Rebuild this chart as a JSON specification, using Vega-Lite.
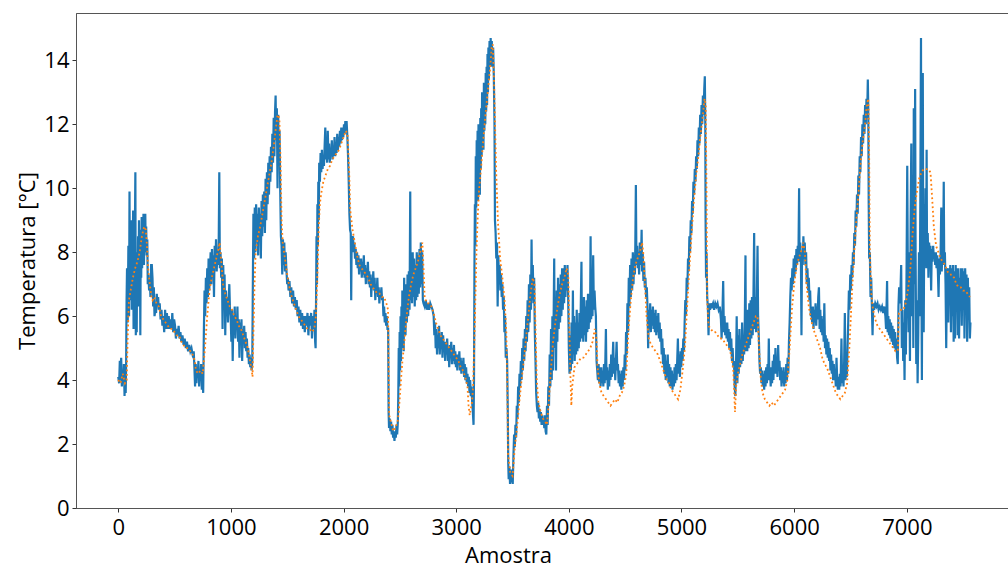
{
"$schema": "https://vega.github.io/schema/vega-lite/v6.json",
"width": 935, "height": 495,
"autosize": {"type": "none"},
"padding": {"left": 76, "top": 13, "right": 0, "bottom": 61},
"background": "white",
"config": {
  "view": {"stroke": "#555", "strokeWidth": 1},
  "axis": {"labelFont": "Open Sans", "titleFont": "Open Sans", "labelFontSize": 22, "titleFontSize": 22, "titleFontWeight": "normal", "labelColor": "#000", "titleColor": "#000", "tickColor": "#333", "domainColor": "#555", "tickSize": 4, "grid": false}
},
"datasets": {
"meas": [
{"x":0,"y":4.1},{"x":8,"y":3.9},{"x":14,"y":4.6},{"x":20,"y":4.0},{"x":26,"y":4.7},{"x":32,"y":3.8},{"x":38,"y":4.3},{"x":44,"y":3.9},{"x":50,"y":4.5},{"x":56,"y":3.5},{"x":62,"y":4.2},{"x":66,"y":3.6},{"x":70,"y":4.5},{"x":74,"y":6.5},{"x":78,"y":7.5},{"x":84,"y":5.8},{"x":90,"y":8.2},{"x":96,"y":6.0},{"x":100,"y":9.9},{"x":104,"y":6.5},{"x":108,"y":8.8},{"x":112,"y":7.0},{"x":116,"y":9.0},{"x":120,"y":6.2},{"x":124,"y":8.5},{"x":128,"y":7.2},{"x":132,"y":9.3},{"x":136,"y":5.6},{"x":140,"y":8.4},{"x":144,"y":6.4},{"x":148,"y":8.8},{"x":152,"y":10.5},{"x":156,"y":5.4},{"x":160,"y":7.8},{"x":164,"y":5.5},{"x":168,"y":8.0},{"x":172,"y":6.8},{"x":176,"y":8.5},{"x":180,"y":6.3},{"x":184,"y":9.0},{"x":188,"y":7.0},{"x":192,"y":8.6},{"x":196,"y":5.4},{"x":200,"y":8.7},{"x":204,"y":7.2},{"x":208,"y":9.1},{"x":212,"y":7.5},{"x":216,"y":8.8},{"x":220,"y":7.8},{"x":224,"y":9.2},{"x":228,"y":7.6},{"x":232,"y":8.5},{"x":236,"y":8.0},{"x":240,"y":9.2},{"x":244,"y":8.2},{"x":248,"y":8.8},{"x":252,"y":7.9},{"x":258,"y":8.4},{"x":262,"y":7.0},{"x":268,"y":7.3},{"x":274,"y":6.8},{"x":280,"y":7.2},{"x":286,"y":6.6},{"x":292,"y":7.6},{"x":298,"y":7.6},{"x":304,"y":7.2},{"x":310,"y":6.3},{"x":316,"y":6.9},{"x":322,"y":6.0},{"x":330,"y":6.2},{"x":336,"y":6.1},{"x":342,"y":6.7},{"x":348,"y":6.3},{"x":354,"y":6.6},{"x":360,"y":6.2},{"x":368,"y":6.4},{"x":376,"y":5.9},{"x":384,"y":6.2},{"x":392,"y":5.7},{"x":400,"y":6.0},{"x":408,"y":5.5},{"x":416,"y":6.2},{"x":424,"y":5.6},{"x":432,"y":6.1},{"x":440,"y":5.6},{"x":448,"y":6.0},{"x":456,"y":5.6},{"x":464,"y":5.9},{"x":472,"y":5.6},{"x":480,"y":6.1},{"x":488,"y":5.5},{"x":496,"y":5.9},{"x":504,"y":5.7},{"x":512,"y":5.3},{"x":520,"y":5.6},{"x":528,"y":5.4},{"x":536,"y":5.7},{"x":544,"y":5.3},{"x":552,"y":5.5},{"x":560,"y":5.2},{"x":570,"y":5.4},{"x":580,"y":5.1},{"x":590,"y":5.3},{"x":600,"y":5.0},{"x":610,"y":5.2},{"x":620,"y":4.9},{"x":630,"y":5.1},{"x":640,"y":4.9},{"x":650,"y":5.0},{"x":660,"y":4.8},{"x":670,"y":4.9},{"x":676,"y":4.4},{"x":682,"y":3.8},{"x":688,"y":4.5},{"x":694,"y":3.9},{"x":700,"y":4.4},{"x":706,"y":4.2},{"x":712,"y":4.6},{"x":718,"y":3.8},{"x":724,"y":4.3},{"x":730,"y":4.0},{"x":736,"y":4.5},{"x":742,"y":3.7},{"x":748,"y":4.3},{"x":754,"y":3.6},{"x":760,"y":5.5},{"x":766,"y":6.8},{"x":772,"y":6.0},{"x":778,"y":7.2},{"x":784,"y":6.4},{"x":790,"y":7.5},{"x":796,"y":6.6},{"x":802,"y":7.8},{"x":808,"y":6.8},{"x":814,"y":7.4},{"x":820,"y":8.0},{"x":826,"y":7.0},{"x":832,"y":8.1},{"x":838,"y":7.2},{"x":844,"y":7.9},{"x":850,"y":6.6},{"x":856,"y":8.2},{"x":862,"y":7.5},{"x":868,"y":8.4},{"x":874,"y":7.4},{"x":880,"y":8.0},{"x":886,"y":7.6},{"x":892,"y":8.3},{"x":897,"y":10.5},{"x":902,"y":7.5},{"x":908,"y":8.0},{"x":914,"y":7.2},{"x":920,"y":7.8},{"x":926,"y":5.6},{"x":932,"y":7.6},{"x":938,"y":6.4},{"x":944,"y":7.3},{"x":950,"y":5.4},{"x":956,"y":6.8},{"x":962,"y":6.0},{"x":968,"y":6.6},{"x":974,"y":5.8},{"x":980,"y":6.5},{"x":986,"y":7.0},{"x":992,"y":6.2},{"x":998,"y":6.0},{"x":1004,"y":5.2},{"x":1010,"y":6.2},{"x":1016,"y":4.6},{"x":1022,"y":6.0},{"x":1028,"y":5.6},{"x":1034,"y":6.3},{"x":1040,"y":5.3},{"x":1046,"y":6.0},{"x":1052,"y":5.6},{"x":1058,"y":6.3},{"x":1064,"y":5.2},{"x":1070,"y":5.9},{"x":1076,"y":4.7},{"x":1082,"y":5.8},{"x":1088,"y":5.3},{"x":1094,"y":5.9},{"x":1100,"y":4.6},{"x":1106,"y":5.6},{"x":1112,"y":5.2},{"x":1118,"y":5.7},{"x":1124,"y":5.0},{"x":1130,"y":5.5},{"x":1136,"y":4.9},{"x":1142,"y":5.3},{"x":1148,"y":4.7},{"x":1154,"y":5.0},{"x":1160,"y":4.5},{"x":1166,"y":4.8},{"x":1172,"y":4.4},{"x":1178,"y":4.7},{"x":1184,"y":4.3},{"x":1190,"y":4.6},
{"x":1196,"y":7.5},{"x":1200,"y":9.2},{"x":1206,"y":7.8},{"x":1212,"y":9.4},{"x":1218,"y":8.0},{"x":1224,"y":9.5},{"x":1230,"y":8.3},{"x":1236,"y":9.2},{"x":1242,"y":7.9},{"x":1248,"y":9.4},{"x":1254,"y":8.5},{"x":1260,"y":9.2},{"x":1266,"y":7.8},{"x":1272,"y":9.6},{"x":1278,"y":8.5},{"x":1284,"y":9.8},{"x":1290,"y":8.8},{"x":1296,"y":9.9},{"x":1302,"y":8.6},{"x":1308,"y":10.3},{"x":1314,"y":9.0},{"x":1320,"y":10.5},{"x":1326,"y":9.5},{"x":1332,"y":10.8},{"x":1338,"y":9.8},{"x":1344,"y":11.0},{"x":1350,"y":10.2},{"x":1356,"y":11.3},{"x":1362,"y":10.5},{"x":1368,"y":11.7},{"x":1374,"y":10.8},{"x":1380,"y":12.2},{"x":1386,"y":11.0},{"x":1392,"y":12.4},{"x":1397,"y":12.9},{"x":1402,"y":11.5},{"x":1408,"y":12.5},{"x":1414,"y":10.0},{"x":1420,"y":12.3},{"x":1426,"y":10.8},{"x":1432,"y":11.8},{"x":1438,"y":9.9},{"x":1444,"y":8.5},{"x":1450,"y":8.2},{"x":1456,"y":7.3},{"x":1462,"y":8.4},{"x":1468,"y":7.6},{"x":1474,"y":8.3},{"x":1480,"y":7.4},{"x":1486,"y":8.0},{"x":1492,"y":7.5},{"x":1500,"y":7.0},{"x":1506,"y":7.2},{"x":1512,"y":6.8},{"x":1520,"y":7.1},{"x":1528,"y":6.6},{"x":1536,"y":6.9},{"x":1544,"y":6.4},{"x":1552,"y":6.8},{"x":1560,"y":6.3},{"x":1568,"y":6.6},{"x":1576,"y":6.2},{"x":1584,"y":6.5},{"x":1592,"y":6.0},{"x":1600,"y":6.3},{"x":1608,"y":5.8},{"x":1616,"y":6.2},{"x":1624,"y":5.7},{"x":1632,"y":6.1},{"x":1640,"y":5.6},{"x":1648,"y":6.0},{"x":1656,"y":5.5},{"x":1664,"y":6.0},{"x":1672,"y":5.7},{"x":1680,"y":6.1},{"x":1688,"y":5.4},{"x":1696,"y":6.0},{"x":1704,"y":5.7},{"x":1712,"y":6.1},{"x":1720,"y":5.3},{"x":1728,"y":6.0},{"x":1736,"y":5.6},{"x":1742,"y":6.2},{"x":1748,"y":5.2},{"x":1752,"y":5.0},
{"x":1756,"y":6.5},{"x":1760,"y":8.5},{"x":1764,"y":7.0},{"x":1768,"y":9.5},{"x":1772,"y":8.2},{"x":1776,"y":10.2},{"x":1780,"y":9.0},{"x":1784,"y":10.8},{"x":1790,"y":10.2},{"x":1796,"y":11.1},{"x":1802,"y":10.5},{"x":1808,"y":11.2},{"x":1814,"y":10.6},{"x":1820,"y":11.0},{"x":1826,"y":10.7},{"x":1832,"y":11.3},{"x":1838,"y":11.9},{"x":1842,"y":10.9},{"x":1848,"y":11.5},{"x":1854,"y":10.8},{"x":1860,"y":11.8},{"x":1866,"y":10.9},{"x":1872,"y":11.4},{"x":1878,"y":10.8},{"x":1884,"y":11.2},{"x":1890,"y":11.0},{"x":1896,"y":11.5},{"x":1902,"y":10.9},{"x":1908,"y":11.3},{"x":1914,"y":11.0},{"x":1920,"y":11.6},{"x":1926,"y":11.0},{"x":1932,"y":11.4},{"x":1938,"y":11.1},{"x":1944,"y":11.7},{"x":1950,"y":11.2},{"x":1956,"y":11.6},{"x":1962,"y":11.3},{"x":1968,"y":11.8},{"x":1974,"y":11.4},{"x":1980,"y":11.9},{"x":1986,"y":11.5},{"x":1992,"y":11.9},{"x":1998,"y":11.6},{"x":2004,"y":12.0},{"x":2010,"y":11.7},{"x":2016,"y":12.1},{"x":2022,"y":11.9},{"x":2027,"y":12.1},{"x":2034,"y":11.6},{"x":2040,"y":11.0},{"x":2046,"y":10.2},{"x":2052,"y":9.2},{"x":2058,"y":8.7},{"x":2064,"y":8.6},{"x":2068,"y":6.5},{"x":2072,"y":8.5},{"x":2078,"y":8.2},{"x":2084,"y":8.5},{"x":2090,"y":8.0},{"x":2096,"y":8.3},{"x":2102,"y":7.8},{"x":2108,"y":8.1},{"x":2114,"y":7.6},{"x":2120,"y":8.0},{"x":2126,"y":7.5},{"x":2132,"y":7.9},{"x":2138,"y":7.3},{"x":2144,"y":7.8},{"x":2150,"y":7.4},{"x":2156,"y":7.8},{"x":2162,"y":7.2},{"x":2168,"y":7.7},{"x":2174,"y":7.3},{"x":2180,"y":7.9},{"x":2186,"y":7.2},{"x":2192,"y":7.6},{"x":2198,"y":7.0},{"x":2204,"y":7.5},{"x":2210,"y":7.2},{"x":2216,"y":7.7},{"x":2222,"y":7.0},{"x":2228,"y":7.4},{"x":2234,"y":6.9},{"x":2240,"y":7.3},{"x":2246,"y":6.6},{"x":2252,"y":7.2},{"x":2258,"y":6.9},{"x":2264,"y":7.4},{"x":2270,"y":6.8},{"x":2276,"y":7.2},{"x":2282,"y":6.5},{"x":2288,"y":7.0},{"x":2294,"y":6.7},{"x":2300,"y":7.2},{"x":2306,"y":6.6},{"x":2312,"y":6.9},{"x":2318,"y":6.4},{"x":2324,"y":6.8},{"x":2330,"y":6.6},{"x":2336,"y":6.9},{"x":2342,"y":6.5},{"x":2348,"y":6.6},{"x":2354,"y":6.0},{"x":2360,"y":6.3},{"x":2366,"y":5.8},{"x":2372,"y":6.1},{"x":2378,"y":5.7},{"x":2384,"y":6.0},{"x":2390,"y":5.6},{"x":2396,"y":5.6},{"x":2400,"y":3.0},{"x":2404,"y":2.5},{"x":2410,"y":2.8},{"x":2416,"y":2.4},{"x":2422,"y":2.7},{"x":2428,"y":2.3},{"x":2434,"y":2.6},{"x":2440,"y":2.2},{"x":2446,"y":2.4},{"x":2452,"y":2.1},{"x":2458,"y":2.4},{"x":2464,"y":2.2},{"x":2470,"y":2.6},{"x":2476,"y":2.3},{"x":2482,"y":2.7},{"x":2486,"y":3.5},{"x":2490,"y":5.0},{"x":2494,"y":3.8},{"x":2498,"y":5.5},{"x":2502,"y":4.3},{"x":2506,"y":6.0},{"x":2510,"y":4.6},{"x":2514,"y":6.3},{"x":2518,"y":5.0},{"x":2522,"y":6.8},{"x":2526,"y":5.2},{"x":2530,"y":6.5},{"x":2534,"y":4.9},{"x":2538,"y":7.2},{"x":2542,"y":5.6},{"x":2546,"y":6.8},{"x":2550,"y":5.4},{"x":2556,"y":7.0},{"x":2562,"y":5.8},{"x":2568,"y":7.3},{"x":2574,"y":6.0},{"x":2580,"y":7.4},{"x":2586,"y":6.2},{"x":2592,"y":9.9},{"x":2596,"y":6.5},{"x":2602,"y":7.8},{"x":2608,"y":6.4},{"x":2614,"y":8.0},{"x":2620,"y":6.6},{"x":2626,"y":7.8},{"x":2632,"y":6.3},{"x":2638,"y":7.6},{"x":2644,"y":6.5},{"x":2650,"y":8.0},{"x":2656,"y":6.6},{"x":2662,"y":7.9},{"x":2668,"y":6.7},{"x":2674,"y":8.1},{"x":2680,"y":6.9},{"x":2686,"y":8.3},{"x":2692,"y":7.0},{"x":2698,"y":8.0},{"x":2704,"y":6.5},{"x":2710,"y":6.4},{"x":2720,"y":6.3},{"x":2730,"y":6.5},{"x":2740,"y":6.2},{"x":2750,"y":6.4},{"x":2760,"y":6.2},{"x":2770,"y":6.4},{"x":2780,"y":6.3},{"x":2790,"y":6.2},{"x":2800,"y":6.0},{"x":2806,"y":5.4},{"x":2812,"y":5.8},{"x":2818,"y":5.0},{"x":2824,"y":5.6},{"x":2830,"y":4.8},{"x":2836,"y":5.4},{"x":2842,"y":5.0},{"x":2848,"y":5.7},{"x":2854,"y":4.8},{"x":2860,"y":5.3},{"x":2866,"y":5.0},{"x":2872,"y":5.5},{"x":2878,"y":4.7},{"x":2884,"y":5.4},{"x":2890,"y":4.9},{"x":2896,"y":5.2},{"x":2902,"y":4.6},{"x":2908,"y":5.2},{"x":2914,"y":4.8},{"x":2920,"y":5.3},{"x":2926,"y":4.6},{"x":2932,"y":5.0},{"x":2938,"y":4.4},{"x":2944,"y":5.1},{"x":2950,"y":4.7},{"x":2956,"y":5.2},{"x":2962,"y":4.5},{"x":2968,"y":5.0},{"x":2974,"y":4.6},{"x":2980,"y":5.1},{"x":2986,"y":4.5},{"x":2992,"y":4.9},{"x":2998,"y":4.4},{"x":3004,"y":4.8},{"x":3010,"y":4.3},{"x":3016,"y":4.8},{"x":3022,"y":4.5},{"x":3028,"y":4.9},{"x":3034,"y":4.3},{"x":3040,"y":4.7},{"x":3046,"y":4.2},{"x":3052,"y":4.6},{"x":3058,"y":4.3},{"x":3064,"y":4.7},{"x":3070,"y":4.1},{"x":3076,"y":4.5},{"x":3082,"y":4.0},{"x":3088,"y":4.4},{"x":3094,"y":3.9},{"x":3100,"y":4.2},{"x":3106,"y":3.8},{"x":3112,"y":4.1},{"x":3118,"y":3.6},{"x":3124,"y":4.0},{"x":3130,"y":3.5},{"x":3136,"y":3.8},{"x":3142,"y":3.3},{"x":3148,"y":3.0},{"x":3154,"y":2.6},{"x":3158,"y":4.0},{"x":3162,"y":7.5},{"x":3166,"y":9.5},{"x":3170,"y":8.2},{"x":3174,"y":11.0},{"x":3178,"y":9.4},{"x":3182,"y":11.5},{"x":3186,"y":10.0},{"x":3190,"y":11.8},{"x":3194,"y":9.6},{"x":3198,"y":12.0},{"x":3202,"y":10.2},{"x":3206,"y":11.6},{"x":3210,"y":9.8},{"x":3214,"y":12.2},{"x":3218,"y":10.6},{"x":3222,"y":12.5},{"x":3226,"y":11.0},{"x":3230,"y":13.0},{"x":3234,"y":11.5},{"x":3238,"y":12.6},{"x":3242,"y":11.2},{"x":3246,"y":13.3},{"x":3250,"y":11.8},{"x":3254,"y":13.0},{"x":3258,"y":12.0},{"x":3262,"y":13.6},{"x":3266,"y":12.4},{"x":3270,"y":13.8},{"x":3274,"y":12.6},{"x":3278,"y":14.2},{"x":3282,"y":13.0},{"x":3286,"y":14.4},{"x":3290,"y":13.4},{"x":3296,"y":14.6},{"x":3302,"y":13.8},{"x":3306,"y":14.7},{"x":3310,"y":14.1},{"x":3316,"y":14.6},{"x":3322,"y":13.8},{"x":3328,"y":14.4},{"x":3334,"y":13.5},{"x":3340,"y":12.0},{"x":3344,"y":9.0},{"x":3350,"y":8.6},{"x":3356,"y":7.8},{"x":3362,"y":8.3},{"x":3368,"y":6.3},{"x":3374,"y":7.9},{"x":3380,"y":7.0},{"x":3386,"y":7.6},{"x":3392,"y":6.8},{"x":3398,"y":7.3},{"x":3404,"y":6.6},{"x":3410,"y":7.0},{"x":3416,"y":6.2},{"x":3422,"y":6.6},{"x":3428,"y":5.5},{"x":3434,"y":6.0},{"x":3440,"y":4.7},{"x":3446,"y":5.0},{"x":3452,"y":4.6},{"x":3458,"y":3.0},{"x":3462,"y":1.4},{"x":3466,"y":0.9},{"x":3472,"y":1.3},{"x":3478,"y":0.75},{"x":3484,"y":1.2},{"x":3490,"y":0.8},{"x":3496,"y":1.2},{"x":3502,"y":0.75},{"x":3508,"y":1.6},{"x":3514,"y":2.3},{"x":3520,"y":1.9},{"x":3526,"y":2.6},{"x":3532,"y":2.2},{"x":3538,"y":3.2},{"x":3544,"y":2.8},{"x":3550,"y":3.8},{"x":3556,"y":3.3},{"x":3562,"y":4.2},{"x":3568,"y":3.8},{"x":3574,"y":4.6},{"x":3580,"y":4.0},{"x":3586,"y":5.0},{"x":3592,"y":4.3},{"x":3598,"y":5.3},{"x":3604,"y":4.6},{"x":3610,"y":5.6},{"x":3616,"y":4.9},{"x":3622,"y":6.0},{"x":3628,"y":5.2},{"x":3634,"y":6.5},{"x":3640,"y":5.5},{"x":3646,"y":7.0},{"x":3652,"y":5.8},{"x":3658,"y":7.3},{"x":3664,"y":6.2},{"x":3669,"y":8.4},{"x":3674,"y":6.5},{"x":3680,"y":7.6},{"x":3686,"y":6.4},{"x":3692,"y":7.2},{"x":3698,"y":5.5},{"x":3704,"y":4.6},{"x":3710,"y":3.6},{"x":3716,"y":3.2},{"x":3722,"y":3.0},{"x":3728,"y":3.3},{"x":3734,"y":2.8},{"x":3740,"y":3.1},{"x":3746,"y":2.7},{"x":3752,"y":3.0},{"x":3758,"y":2.6},{"x":3764,"y":2.9},{"x":3770,"y":2.6},{"x":3776,"y":2.8},{"x":3782,"y":2.5},{"x":3788,"y":2.9},{"x":3794,"y":2.4},{"x":3800,"y":2.3},{"x":3806,"y":3.2},{"x":3812,"y":2.6},{"x":3818,"y":3.8},{"x":3824,"y":3.2},{"x":3830,"y":4.8},{"x":3836,"y":3.8},{"x":3842,"y":5.6},{"x":3848,"y":4.0},{"x":3854,"y":6.0},{"x":3860,"y":4.3},{"x":3866,"y":6.3},{"x":3870,"y":7.8},{"x":3874,"y":5.0},{"x":3880,"y":6.6},{"x":3886,"y":4.3},{"x":3892,"y":6.8},{"x":3898,"y":5.2},{"x":3904,"y":7.2},{"x":3910,"y":5.6},{"x":3916,"y":7.0},{"x":3922,"y":5.8},{"x":3928,"y":7.3},{"x":3934,"y":6.0},{"x":3940,"y":7.5},{"x":3946,"y":6.2},{"x":3952,"y":7.5},{"x":3958,"y":6.4},{"x":3964,"y":7.6},{"x":3970,"y":6.6},{"x":3976,"y":7.4},{"x":3982,"y":6.8},{"x":3988,"y":7.6},{"x":3994,"y":6.6},{"x":4000,"y":5.0},{"x":4006,"y":4.2},{"x":4012,"y":5.4},{"x":4018,"y":4.3},{"x":4024,"y":5.8},{"x":4030,"y":4.5},{"x":4036,"y":6.8},{"x":4040,"y":4.8},{"x":4046,"y":6.0},{"x":4052,"y":4.6},{"x":4058,"y":5.8},{"x":4064,"y":4.8},{"x":4070,"y":6.2},{"x":4076,"y":4.9},{"x":4082,"y":5.8},{"x":4088,"y":5.0},{"x":4094,"y":6.1},{"x":4100,"y":5.2},{"x":4106,"y":6.3},{"x":4112,"y":7.7},{"x":4116,"y":5.3},{"x":4122,"y":6.4},{"x":4128,"y":5.2},{"x":4134,"y":6.6},{"x":4140,"y":5.4},{"x":4146,"y":6.3},{"x":4152,"y":5.2},{"x":4158,"y":6.5},{"x":4164,"y":5.5},{"x":4170,"y":6.7},{"x":4176,"y":5.6},{"x":4182,"y":6.4},{"x":4188,"y":5.8},{"x":4193,"y":8.5},{"x":4198,"y":5.9},{"x":4204,"y":6.8},{"x":4210,"y":6.0},{"x":4216,"y":7.9},{"x":4222,"y":6.2},{"x":4228,"y":6.8},{"x":4234,"y":6.3},{"x":4240,"y":6.0},{"x":4246,"y":4.6},{"x":4252,"y":4.3},{"x":4258,"y":4.0},{"x":4264,"y":4.5},{"x":4270,"y":3.9},{"x":4276,"y":4.4},{"x":4282,"y":3.8},{"x":4288,"y":4.4},{"x":4294,"y":3.9},{"x":4300,"y":4.3},{"x":4306,"y":3.8},{"x":4312,"y":4.5},{"x":4318,"y":3.9},{"x":4324,"y":4.6},{"x":4329,"y":5.6},{"x":4334,"y":4.0},{"x":4340,"y":4.4},{"x":4346,"y":3.7},{"x":4352,"y":4.3},{"x":4358,"y":3.8},{"x":4364,"y":4.5},{"x":4370,"y":4.0},{"x":4376,"y":4.8},{"x":4382,"y":4.1},{"x":4388,"y":4.6},{"x":4394,"y":5.2},{"x":4400,"y":4.2},{"x":4406,"y":4.7},{"x":4412,"y":4.0},{"x":4418,"y":4.6},{"x":4424,"y":5.2},{"x":4430,"y":4.3},{"x":4436,"y":4.5},{"x":4442,"y":3.9},{"x":4448,"y":4.3},{"x":4454,"y":3.8},{"x":4460,"y":4.2},{"x":4466,"y":3.7},{"x":4472,"y":4.3},{"x":4478,"y":3.8},{"x":4484,"y":4.4},{"x":4490,"y":4.0},{"x":4496,"y":4.8},{"x":4502,"y":4.3},{"x":4508,"y":5.5},{"x":4514,"y":4.8},{"x":4520,"y":6.4},{"x":4526,"y":5.5},{"x":4532,"y":7.2},{"x":4538,"y":6.3},{"x":4544,"y":7.6},{"x":4550,"y":6.6},{"x":4556,"y":7.8},{"x":4562,"y":6.8},{"x":4568,"y":8.0},{"x":4574,"y":7.0},{"x":4580,"y":7.9},{"x":4586,"y":7.3},{"x":4590,"y":8.2},{"x":4595,"y":10.1},{"x":4600,"y":7.6},{"x":4606,"y":8.2},{"x":4612,"y":7.5},{"x":4618,"y":8.0},{"x":4624,"y":7.3},{"x":4630,"y":8.3},{"x":4636,"y":7.6},{"x":4642,"y":8.0},{"x":4646,"y":8.7},{"x":4650,"y":7.4},{"x":4656,"y":8.0},{"x":4662,"y":7.1},{"x":4668,"y":7.7},{"x":4674,"y":6.9},{"x":4680,"y":7.2},{"x":4686,"y":6.6},{"x":4692,"y":6.9},{"x":4698,"y":6.3},{"x":4704,"y":5.0},{"x":4710,"y":6.2},{"x":4716,"y":5.6},{"x":4722,"y":6.4},{"x":4728,"y":5.5},{"x":4734,"y":6.2},{"x":4740,"y":5.7},{"x":4746,"y":6.3},{"x":4752,"y":5.6},{"x":4758,"y":6.1},{"x":4764,"y":5.5},{"x":4770,"y":6.2},{"x":4776,"y":5.4},{"x":4782,"y":6.0},{"x":4788,"y":5.5},{"x":4794,"y":6.1},{"x":4800,"y":5.3},{"x":4806,"y":5.8},{"x":4812,"y":5.2},{"x":4818,"y":5.6},{"x":4824,"y":4.8},{"x":4830,"y":5.3},{"x":4836,"y":4.5},{"x":4842,"y":5.0},{"x":4848,"y":4.2},{"x":4854,"y":4.8},{"x":4860,"y":4.0},{"x":4866,"y":4.6},{"x":4872,"y":4.1},{"x":4878,"y":4.8},{"x":4884,"y":3.9},{"x":4890,"y":4.5},{"x":4896,"y":3.8},{"x":4902,"y":4.4},{"x":4908,"y":3.8},{"x":4914,"y":4.3},{"x":4920,"y":3.7},{"x":4926,"y":4.2},{"x":4932,"y":3.8},{"x":4938,"y":4.4},{"x":4944,"y":3.9},{"x":4950,"y":4.5},{"x":4956,"y":4.0},{"x":4962,"y":4.6},{"x":4968,"y":5.3},{"x":4974,"y":4.2},{"x":4980,"y":4.8},{"x":4986,"y":4.1},{"x":4992,"y":4.9},{"x":4998,"y":4.4},{"x":5004,"y":5.0},{"x":5010,"y":4.6},{"x":5016,"y":5.3},{"x":5022,"y":4.9},{"x":5028,"y":5.8},{"x":5034,"y":6.5},{"x":5040,"y":6.0},{"x":5046,"y":7.2},{"x":5052,"y":6.8},{"x":5058,"y":7.8},{"x":5064,"y":7.4},{"x":5070,"y":8.5},{"x":5076,"y":8.0},{"x":5082,"y":9.0},{"x":5088,"y":8.6},{"x":5094,"y":9.6},{"x":5100,"y":9.2},{"x":5106,"y":10.2},{"x":5112,"y":9.8},{"x":5118,"y":10.6},{"x":5124,"y":10.2},{"x":5130,"y":11.0},{"x":5136,"y":10.6},{"x":5142,"y":11.5},{"x":5148,"y":11.0},{"x":5154,"y":11.9},{"x":5160,"y":11.4},{"x":5166,"y":12.3},{"x":5172,"y":11.7},{"x":5178,"y":12.6},{"x":5184,"y":12.0},{"x":5190,"y":12.9},{"x":5196,"y":12.3},{"x":5202,"y":13.1},{"x":5207,"y":13.5},{"x":5211,"y":12.2},{"x":5214,"y":9.0},{"x":5218,"y":7.2},{"x":5222,"y":8.0},{"x":5228,"y":6.6},{"x":5234,"y":6.3},{"x":5240,"y":5.4},{"x":5246,"y":6.4},{"x":5252,"y":6.2},{"x":5260,"y":6.4},{"x":5270,"y":6.3},{"x":5280,"y":6.4},{"x":5290,"y":6.2},{"x":5300,"y":6.4},{"x":5310,"y":6.3},{"x":5320,"y":6.4},{"x":5330,"y":6.2},{"x":5340,"y":6.3},{"x":5350,"y":5.9},{"x":5356,"y":5.3},{"x":5362,"y":5.9},{"x":5370,"y":7.1},{"x":5376,"y":5.5},{"x":5382,"y":6.0},{"x":5388,"y":5.4},{"x":5394,"y":5.8},{"x":5400,"y":5.3},{"x":5406,"y":5.8},{"x":5412,"y":5.2},{"x":5418,"y":5.6},{"x":5424,"y":5.0},{"x":5430,"y":5.5},{"x":5436,"y":4.9},{"x":5442,"y":5.3},{"x":5448,"y":4.6},{"x":5454,"y":5.0},{"x":5460,"y":4.4},{"x":5466,"y":4.6},{"x":5472,"y":3.8},{"x":5478,"y":3.5},{"x":5484,"y":4.4},{"x":5490,"y":6.0},{"x":5496,"y":3.9},{"x":5502,"y":5.4},{"x":5508,"y":4.2},{"x":5514,"y":5.6},{"x":5520,"y":4.4},{"x":5526,"y":5.2},{"x":5532,"y":4.5},{"x":5538,"y":5.8},{"x":5544,"y":4.6},{"x":5550,"y":5.4},{"x":5556,"y":4.8},{"x":5562,"y":5.8},{"x":5568,"y":7.9},{"x":5572,"y":4.9},{"x":5578,"y":6.0},{"x":5584,"y":4.9},{"x":5590,"y":6.2},{"x":5596,"y":5.0},{"x":5602,"y":6.4},{"x":5608,"y":5.1},{"x":5614,"y":6.5},{"x":5620,"y":5.3},{"x":5626,"y":6.6},{"x":5632,"y":5.4},{"x":5638,"y":6.4},{"x":5645,"y":8.6},{"x":5650,"y":5.6},{"x":5656,"y":6.6},{"x":5662,"y":5.5},{"x":5668,"y":6.3},{"x":5675,"y":8.2},{"x":5680,"y":6.0},{"x":5686,"y":5.4},{"x":5692,"y":4.6},{"x":5698,"y":4.2},{"x":5704,"y":4.4},{"x":5710,"y":3.9},{"x":5716,"y":4.3},{"x":5722,"y":3.8},{"x":5728,"y":4.2},{"x":5734,"y":3.7},{"x":5740,"y":4.3},{"x":5746,"y":3.8},{"x":5752,"y":4.4},{"x":5758,"y":3.9},{"x":5764,"y":4.5},{"x":5770,"y":4.0},{"x":5775,"y":5.3},{"x":5780,"y":4.0},{"x":5786,"y":4.3},{"x":5792,"y":3.8},{"x":5798,"y":4.4},{"x":5804,"y":3.9},{"x":5810,"y":4.6},{"x":5816,"y":4.0},{"x":5822,"y":4.8},{"x":5828,"y":4.2},{"x":5834,"y":5.0},{"x":5840,"y":4.2},{"x":5846,"y":4.7},{"x":5852,"y":4.1},{"x":5858,"y":5.1},{"x":5864,"y":4.3},{"x":5870,"y":4.6},{"x":5876,"y":4.0},{"x":5882,"y":4.4},{"x":5888,"y":3.8},{"x":5894,"y":4.3},{"x":5900,"y":3.9},{"x":5906,"y":4.4},{"x":5912,"y":3.8},{"x":5918,"y":4.2},{"x":5924,"y":3.9},{"x":5930,"y":4.5},{"x":5936,"y":4.0},{"x":5942,"y":4.7},{"x":5948,"y":4.2},{"x":5954,"y":5.2},{"x":5960,"y":5.8},{"x":5966,"y":6.6},{"x":5972,"y":7.2},{"x":5978,"y":6.8},{"x":5984,"y":7.5},{"x":5990,"y":7.0},{"x":5996,"y":7.8},{"x":6002,"y":7.2},{"x":6008,"y":7.9},{"x":6014,"y":7.4},{"x":6020,"y":8.1},{"x":6026,"y":7.6},{"x":6032,"y":8.2},{"x":6038,"y":7.8},{"x":6044,"y":10.0},{"x":6048,"y":7.7},{"x":6054,"y":8.3},{"x":6060,"y":7.8},{"x":6065,"y":5.4},{"x":6070,"y":8.0},{"x":6076,"y":7.6},{"x":6082,"y":8.5},{"x":6088,"y":7.8},{"x":6094,"y":8.3},{"x":6100,"y":7.6},{"x":6106,"y":8.0},{"x":6112,"y":7.0},{"x":6118,"y":7.5},{"x":6124,"y":6.8},{"x":6130,"y":7.2},{"x":6136,"y":6.5},{"x":6142,"y":6.8},{"x":6148,"y":6.0},{"x":6154,"y":6.2},{"x":6160,"y":5.8},{"x":6166,"y":6.3},{"x":6172,"y":5.6},{"x":6178,"y":6.2},{"x":6184,"y":5.8},{"x":6190,"y":6.4},{"x":6196,"y":5.7},{"x":6202,"y":6.3},{"x":6208,"y":5.9},{"x":6214,"y":6.6},{"x":6220,"y":6.9},{"x":6226,"y":5.6},{"x":6232,"y":6.2},{"x":6238,"y":5.5},{"x":6244,"y":6.0},{"x":6250,"y":5.4},{"x":6256,"y":5.9},{"x":6262,"y":5.2},{"x":6268,"y":6.4},{"x":6274,"y":5.0},{"x":6280,"y":5.4},{"x":6286,"y":4.8},{"x":6292,"y":5.3},{"x":6298,"y":4.7},{"x":6304,"y":5.2},{"x":6310,"y":4.6},{"x":6316,"y":5.0},{"x":6322,"y":4.3},{"x":6328,"y":4.8},{"x":6334,"y":4.2},{"x":6340,"y":4.6},{"x":6346,"y":4.0},{"x":6352,"y":4.5},{"x":6358,"y":4.0},{"x":6364,"y":4.2},{"x":6370,"y":3.8},{"x":6376,"y":4.7},{"x":6382,"y":4.0},{"x":6388,"y":3.7},{"x":6394,"y":4.1},{"x":6400,"y":3.7},{"x":6406,"y":4.2},{"x":6412,"y":3.8},{"x":6420,"y":5.3},{"x":6426,"y":3.9},{"x":6432,"y":4.3},{"x":6438,"y":3.8},{"x":6444,"y":4.6},{"x":6450,"y":6.1},{"x":6456,"y":4.0},{"x":6462,"y":4.5},{"x":6468,"y":4.1},{"x":6474,"y":5.0},{"x":6480,"y":5.8},{"x":6486,"y":6.8},{"x":6492,"y":6.2},{"x":6498,"y":7.3},{"x":6504,"y":6.8},{"x":6510,"y":7.6},{"x":6516,"y":7.2},{"x":6522,"y":8.0},{"x":6528,"y":7.6},{"x":6534,"y":8.6},{"x":6540,"y":8.2},{"x":6546,"y":9.3},{"x":6552,"y":8.8},{"x":6558,"y":9.8},{"x":6564,"y":9.2},{"x":6570,"y":10.4},{"x":6576,"y":9.8},{"x":6582,"y":11.0},{"x":6588,"y":10.5},{"x":6594,"y":11.6},{"x":6600,"y":11.0},{"x":6606,"y":12.0},{"x":6612,"y":11.4},{"x":6618,"y":12.3},{"x":6624,"y":11.7},{"x":6630,"y":12.6},{"x":6636,"y":12.0},{"x":6642,"y":12.8},{"x":6648,"y":12.2},{"x":6654,"y":13.4},{"x":6658,"y":12.5},{"x":6662,"y":9.5},{"x":6666,"y":7.8},{"x":6672,"y":8.0},{"x":6678,"y":6.6},{"x":6684,"y":7.2},{"x":6690,"y":6.3},{"x":6696,"y":5.4},{"x":6702,"y":6.4},{"x":6710,"y":6.2},{"x":6720,"y":6.4},{"x":6730,"y":6.3},{"x":6740,"y":6.4},{"x":6750,"y":6.2},{"x":6760,"y":6.3},{"x":6770,"y":6.2},{"x":6780,"y":6.3},{"x":6790,"y":6.1},{"x":6800,"y":6.3},{"x":6810,"y":6.0},{"x":6816,"y":5.6},{"x":6825,"y":7.1},{"x":6830,"y":5.5},{"x":6836,"y":6.0},{"x":6842,"y":5.4},{"x":6848,"y":5.9},{"x":6854,"y":5.3},{"x":6860,"y":5.8},{"x":6866,"y":5.2},{"x":6872,"y":5.7},{"x":6878,"y":5.1},{"x":6884,"y":5.6},{"x":6890,"y":5.0},{"x":6896,"y":5.5},{"x":6902,"y":4.9},{"x":6908,"y":5.3},{"x":6914,"y":4.7},{"x":6920,"y":4.5},{"x":6926,"y":6.3},{"x":6932,"y":6.9},{"x":6938,"y":6.4},{"x":6944,"y":6.8},{"x":6950,"y":7.6},{"x":6956,"y":5.0},{"x":6962,"y":6.2},{"x":6968,"y":4.6},{"x":6974,"y":5.8},{"x":6980,"y":4.0},{"x":6986,"y":6.5},{"x":6992,"y":4.8},{"x":6998,"y":7.5},{"x":7004,"y":10.7},{"x":7010,"y":7.0},{"x":7016,"y":5.5},{"x":7022,"y":8.0},{"x":7028,"y":4.6},{"x":7034,"y":9.0},{"x":7040,"y":11.4},{"x":7046,"y":6.0},{"x":7052,"y":9.5},{"x":7058,"y":5.0},{"x":7062,"y":12.5},{"x":7068,"y":7.0},{"x":7074,"y":13.1},{"x":7078,"y":8.0},{"x":7084,"y":4.5},{"x":7090,"y":6.5},{"x":7096,"y":3.9},{"x":7102,"y":5.5},{"x":7108,"y":8.0},{"x":7114,"y":6.0},{"x":7120,"y":9.5},{"x":7126,"y":14.7},{"x":7130,"y":7.0},{"x":7134,"y":4.0},{"x":7138,"y":8.5},{"x":7142,"y":13.6},{"x":7146,"y":8.0},{"x":7150,"y":5.5},{"x":7156,"y":9.5},{"x":7160,"y":7.5},{"x":7166,"y":10.0},{"x":7172,"y":8.0},{"x":7176,"y":11.2},{"x":7180,"y":7.5},{"x":7186,"y":8.6},{"x":7192,"y":7.2},{"x":7198,"y":8.3},{"x":7204,"y":7.8},{"x":7210,"y":8.2},{"x":7216,"y":6.8},{"x":7222,"y":8.1},{"x":7228,"y":7.7},{"x":7234,"y":8.2},{"x":7240,"y":7.8},{"x":7246,"y":8.0},{"x":7252,"y":7.6},{"x":7258,"y":8.0},{"x":7264,"y":7.5},{"x":7270,"y":7.9},{"x":7276,"y":7.4},{"x":7282,"y":6.6},{"x":7288,"y":7.8},{"x":7294,"y":7.3},{"x":7300,"y":7.9},{"x":7306,"y":9.4},{"x":7310,"y":7.4},{"x":7316,"y":8.0},{"x":7322,"y":7.6},{"x":7328,"y":10.2},{"x":7332,"y":7.8},{"x":7338,"y":8.0},{"x":7344,"y":7.0},{"x":7350,"y":5.0},{"x":7356,"y":7.2},{"x":7362,"y":7.5},{"x":7368,"y":5.8},{"x":7374,"y":7.5},{"x":7380,"y":6.8},{"x":7386,"y":7.6},{"x":7392,"y":5.5},{"x":7398,"y":7.5},{"x":7404,"y":6.0},{"x":7410,"y":7.6},{"x":7416,"y":5.2},{"x":7422,"y":7.4},{"x":7428,"y":5.3},{"x":7434,"y":7.6},{"x":7440,"y":6.2},{"x":7446,"y":7.5},{"x":7452,"y":5.4},{"x":7458,"y":7.5},{"x":7464,"y":5.3},{"x":7470,"y":7.2},{"x":7476,"y":6.5},{"x":7482,"y":7.5},{"x":7488,"y":5.7},{"x":7494,"y":7.5},{"x":7500,"y":6.8},{"x":7506,"y":7.4},{"x":7512,"y":5.3},{"x":7518,"y":7.5},{"x":7524,"y":6.5},{"x":7530,"y":7.3},{"x":7536,"y":5.2},{"x":7542,"y":7.2},{"x":7548,"y":6.0},{"x":7554,"y":6.9},{"x":7560,"y":5.3},{"x":7565,"y":5.8}
],
"pred": [
{"x":0,"y":4.0},{"x":20,"y":3.9},{"x":40,"y":4.2},{"x":60,"y":3.9},{"x":75,"y":4.0},{"x":85,"y":5.5},{"x":95,"y":6.5},{"x":110,"y":6.8},{"x":130,"y":7.2},{"x":150,"y":7.5},{"x":170,"y":7.7},{"x":190,"y":8.0},{"x":210,"y":8.5},{"x":230,"y":8.8},{"x":245,"y":8.7},{"x":255,"y":8.2},{"x":265,"y":7.5},{"x":280,"y":7.0},{"x":295,"y":6.6},{"x":305,"y":6.5},{"x":320,"y":6.6},{"x":340,"y":6.4},{"x":360,"y":6.3},{"x":380,"y":6.0},{"x":400,"y":5.9},{"x":420,"y":5.8},{"x":440,"y":5.7},{"x":460,"y":5.6},{"x":480,"y":5.6},{"x":500,"y":5.5},{"x":520,"y":5.4},{"x":540,"y":5.4},{"x":560,"y":5.2},{"x":580,"y":5.1},{"x":600,"y":5.0},{"x":620,"y":5.0},{"x":640,"y":4.9},{"x":660,"y":4.8},{"x":680,"y":4.6},{"x":690,"y":4.3},{"x":710,"y":4.2},{"x":730,"y":4.3},{"x":750,"y":4.2},{"x":770,"y":5.0},{"x":790,"y":6.0},{"x":810,"y":6.8},{"x":830,"y":7.2},{"x":850,"y":7.5},{"x":870,"y":7.8},{"x":890,"y":8.1},{"x":900,"y":8.3},{"x":915,"y":7.7},{"x":930,"y":7.0},{"x":950,"y":6.7},{"x":970,"y":6.5},{"x":990,"y":6.3},{"x":1010,"y":6.2},{"x":1030,"y":6.0},{"x":1050,"y":5.9},{"x":1070,"y":5.7},{"x":1090,"y":5.6},{"x":1110,"y":5.4},{"x":1130,"y":5.2},{"x":1150,"y":5.0},{"x":1170,"y":4.6},{"x":1185,"y":4.3},{"x":1192,"y":4.1},{"x":1200,"y":5.5},{"x":1210,"y":7.0},{"x":1220,"y":8.0},{"x":1240,"y":8.5},{"x":1260,"y":8.8},{"x":1280,"y":9.2},{"x":1300,"y":9.6},{"x":1320,"y":10.0},{"x":1340,"y":10.4},{"x":1360,"y":10.8},{"x":1380,"y":11.3},{"x":1400,"y":11.9},{"x":1415,"y":12.3},{"x":1430,"y":12.2},{"x":1440,"y":11.0},{"x":1450,"y":9.0},{"x":1460,"y":8.3},{"x":1480,"y":7.8},{"x":1500,"y":7.3},{"x":1520,"y":6.9},{"x":1540,"y":6.6},{"x":1560,"y":6.4},{"x":1580,"y":6.2},{"x":1600,"y":6.0},{"x":1620,"y":5.9},{"x":1640,"y":5.8},{"x":1660,"y":5.7},{"x":1680,"y":5.6},{"x":1700,"y":5.6},{"x":1720,"y":5.5},{"x":1740,"y":5.6},{"x":1755,"y":6.0},{"x":1770,"y":7.5},{"x":1780,"y":8.8},{"x":1790,"y":9.5},{"x":1800,"y":9.8},{"x":1820,"y":10.2},{"x":1840,"y":10.4},{"x":1860,"y":10.6},{"x":1880,"y":10.7},{"x":1900,"y":10.9},{"x":1920,"y":11.0},{"x":1940,"y":11.1},{"x":1960,"y":11.2},{"x":1980,"y":11.4},{"x":2000,"y":11.6},{"x":2020,"y":11.8},{"x":2035,"y":11.7},{"x":2050,"y":10.5},{"x":2060,"y":9.3},{"x":2080,"y":8.7},{"x":2100,"y":8.3},{"x":2120,"y":7.9},{"x":2140,"y":7.6},{"x":2160,"y":7.5},{"x":2180,"y":7.4},{"x":2200,"y":7.3},{"x":2220,"y":7.2},{"x":2240,"y":7.0},{"x":2260,"y":6.9},{"x":2280,"y":6.8},{"x":2300,"y":6.7},{"x":2320,"y":6.7},{"x":2340,"y":6.6},{"x":2360,"y":6.6},{"x":2380,"y":6.4},{"x":2395,"y":6.2},{"x":2400,"y":4.5},{"x":2405,"y":2.9},{"x":2420,"y":2.7},{"x":2440,"y":2.4},{"x":2460,"y":2.5},{"x":2480,"y":2.7},{"x":2490,"y":3.0},{"x":2500,"y":3.5},{"x":2520,"y":4.5},{"x":2540,"y":5.2},{"x":2560,"y":6.0},{"x":2580,"y":6.6},{"x":2600,"y":7.0},{"x":2620,"y":7.3},{"x":2640,"y":7.5},{"x":2660,"y":7.7},{"x":2680,"y":8.0},{"x":2700,"y":8.3},{"x":2710,"y":7.5},{"x":2720,"y":6.6},{"x":2740,"y":6.4},{"x":2760,"y":6.4},{"x":2780,"y":6.3},{"x":2800,"y":6.1},{"x":2820,"y":5.8},{"x":2840,"y":5.6},{"x":2860,"y":5.4},{"x":2880,"y":5.3},{"x":2900,"y":5.2},{"x":2920,"y":5.1},{"x":2940,"y":5.0},{"x":2960,"y":4.9},{"x":2980,"y":4.8},{"x":3000,"y":4.7},{"x":3020,"y":4.6},{"x":3040,"y":4.4},{"x":3060,"y":4.3},{"x":3080,"y":4.1},{"x":3100,"y":3.8},{"x":3110,"y":3.2},{"x":3120,"y":2.9},{"x":3140,"y":3.3},{"x":3150,"y":3.8},{"x":3160,"y":5.0},{"x":3170,"y":6.5},{"x":3180,"y":8.0},{"x":3190,"y":9.0},{"x":3200,"y":9.8},{"x":3220,"y":10.6},{"x":3240,"y":11.5},{"x":3260,"y":12.3},{"x":3280,"y":13.0},{"x":3300,"y":13.7},{"x":3315,"y":14.4},{"x":3325,"y":14.5},{"x":3335,"y":13.5},{"x":3345,"y":12.0},{"x":3355,"y":10.5},{"x":3370,"y":9.0},{"x":3390,"y":7.8},{"x":3410,"y":7.2},{"x":3430,"y":6.5},{"x":3445,"y":5.5},{"x":3455,"y":3.5},{"x":3460,"y":1.7},{"x":3470,"y":1.4},{"x":3480,"y":1.1},{"x":3500,"y":1.0},{"x":3510,"y":1.4},{"x":3520,"y":1.9},{"x":3540,"y":2.5},{"x":3560,"y":3.3},{"x":3580,"y":4.0},{"x":3600,"y":4.6},{"x":3620,"y":5.3},{"x":3640,"y":6.0},{"x":3660,"y":6.7},{"x":3680,"y":7.2},{"x":3695,"y":7.0},{"x":3705,"y":5.5},{"x":3715,"y":4.0},{"x":3730,"y":3.3},{"x":3750,"y":3.0},{"x":3770,"y":2.8},{"x":3790,"y":2.7},{"x":3805,"y":2.6},{"x":3820,"y":3.2},{"x":3840,"y":4.3},{"x":3860,"y":5.2},{"x":3880,"y":5.8},{"x":3900,"y":6.3},{"x":3920,"y":6.7},{"x":3940,"y":7.0},{"x":3960,"y":7.2},{"x":3980,"y":7.5},{"x":3995,"y":7.3},{"x":4005,"y":5.5},{"x":4015,"y":4.0},{"x":4022,"y":3.2},{"x":4030,"y":3.8},{"x":4050,"y":4.4},{"x":4070,"y":4.5},{"x":4090,"y":4.6},{"x":4110,"y":4.7},{"x":4130,"y":4.7},{"x":4150,"y":4.8},{"x":4170,"y":4.9},{"x":4190,"y":5.0},{"x":4210,"y":5.2},{"x":4230,"y":5.6},{"x":4245,"y":5.3},{"x":4255,"y":4.4},{"x":4270,"y":3.9},{"x":4290,"y":3.6},{"x":4310,"y":3.5},{"x":4330,"y":3.4},{"x":4350,"y":3.3},{"x":4370,"y":3.2},{"x":4390,"y":3.3},{"x":4410,"y":3.4},{"x":4430,"y":3.3},{"x":4450,"y":3.5},{"x":4470,"y":3.6},{"x":4490,"y":3.8},{"x":4510,"y":4.2},{"x":4530,"y":5.6},{"x":4550,"y":6.5},{"x":4570,"y":7.2},{"x":4590,"y":7.6},{"x":4610,"y":7.8},{"x":4630,"y":8.0},{"x":4650,"y":8.3},{"x":4660,"y":8.0},{"x":4675,"y":7.0},{"x":4690,"y":6.0},{"x":4710,"y":5.3},{"x":4730,"y":5.1},{"x":4750,"y":5.0},{"x":4770,"y":4.9},{"x":4790,"y":4.8},{"x":4810,"y":4.6},{"x":4830,"y":4.4},{"x":4850,"y":4.2},{"x":4870,"y":4.0},{"x":4890,"y":3.9},{"x":4910,"y":3.7},{"x":4930,"y":3.6},{"x":4950,"y":3.5},{"x":4970,"y":3.4},{"x":4990,"y":3.7},{"x":5010,"y":4.3},{"x":5030,"y":5.0},{"x":5050,"y":6.3},{"x":5070,"y":7.5},{"x":5090,"y":8.6},{"x":5110,"y":9.6},{"x":5130,"y":10.4},{"x":5150,"y":11.0},{"x":5170,"y":11.7},{"x":5190,"y":12.3},{"x":5205,"y":12.8},{"x":5215,"y":12.6},{"x":5222,"y":10.0},{"x":5228,"y":6.5},{"x":5240,"y":5.7},{"x":5260,"y":5.6},{"x":5280,"y":5.5},{"x":5300,"y":5.5},{"x":5320,"y":5.4},{"x":5340,"y":5.3},{"x":5360,"y":5.3},{"x":5380,"y":5.2},{"x":5400,"y":5.1},{"x":5420,"y":5.0},{"x":5440,"y":4.8},{"x":5460,"y":4.3},{"x":5475,"y":3.0},{"x":5485,"y":3.8},{"x":5500,"y":4.2},{"x":5520,"y":4.5},{"x":5540,"y":4.8},{"x":5560,"y":5.0},{"x":5580,"y":5.2},{"x":5600,"y":5.4},{"x":5620,"y":5.6},{"x":5640,"y":5.8},{"x":5660,"y":6.0},{"x":5675,"y":6.0},{"x":5690,"y":4.9},{"x":5705,"y":4.0},{"x":5720,"y":3.6},{"x":5740,"y":3.4},{"x":5760,"y":3.3},{"x":5780,"y":3.2},{"x":5800,"y":3.3},{"x":5820,"y":3.2},{"x":5840,"y":3.3},{"x":5860,"y":3.4},{"x":5880,"y":3.5},{"x":5900,"y":3.6},{"x":5920,"y":3.7},{"x":5940,"y":4.0},{"x":5960,"y":5.0},{"x":5980,"y":6.2},{"x":6000,"y":7.0},{"x":6020,"y":7.5},{"x":6040,"y":7.8},{"x":6060,"y":8.0},{"x":6080,"y":8.3},{"x":6095,"y":8.0},{"x":6110,"y":7.0},{"x":6130,"y":6.3},{"x":6150,"y":5.9},{"x":6170,"y":5.6},{"x":6190,"y":5.4},{"x":6210,"y":5.2},{"x":6230,"y":5.0},{"x":6250,"y":4.7},{"x":6270,"y":4.5},{"x":6290,"y":4.4},{"x":6310,"y":4.2},{"x":6330,"y":4.0},{"x":6350,"y":3.8},{"x":6370,"y":3.6},{"x":6390,"y":3.5},{"x":6410,"y":3.4},{"x":6430,"y":3.5},{"x":6450,"y":3.6},{"x":6470,"y":3.9},{"x":6490,"y":5.0},{"x":6510,"y":6.5},{"x":6530,"y":7.8},{"x":6550,"y":8.9},{"x":6570,"y":9.8},{"x":6590,"y":10.8},{"x":6610,"y":11.5},{"x":6630,"y":12.0},{"x":6645,"y":12.6},{"x":6658,"y":12.8},{"x":6665,"y":11.5},{"x":6672,"y":8.0},{"x":6685,"y":6.7},{"x":6700,"y":6.2},{"x":6720,"y":5.9},{"x":6740,"y":5.7},{"x":6760,"y":5.6},{"x":6780,"y":5.5},{"x":6800,"y":5.4},{"x":6820,"y":5.3},{"x":6840,"y":5.2},{"x":6860,"y":5.1},{"x":6880,"y":5.0},{"x":6900,"y":4.9},{"x":6920,"y":4.9},{"x":6930,"y":6.1},{"x":6950,"y":6.2},{"x":6970,"y":6.2},{"x":6990,"y":6.4},{"x":7010,"y":6.8},{"x":7030,"y":7.4},{"x":7050,"y":8.5},{"x":7070,"y":9.4},{"x":7090,"y":9.9},{"x":7110,"y":10.3},{"x":7130,"y":10.5},{"x":7150,"y":10.6},{"x":7170,"y":10.6},{"x":7190,"y":10.6},{"x":7210,"y":10.5},{"x":7225,"y":9.7},{"x":7240,"y":8.8},{"x":7260,"y":8.2},{"x":7280,"y":8.0},{"x":7300,"y":7.8},{"x":7320,"y":7.7},{"x":7340,"y":7.6},{"x":7360,"y":7.4},{"x":7380,"y":7.3},{"x":7400,"y":7.3},{"x":7420,"y":7.2},{"x":7440,"y":7.0},{"x":7460,"y":6.9},{"x":7480,"y":6.9},{"x":7500,"y":6.8},{"x":7520,"y":6.8},{"x":7540,"y":6.7},{"x":7560,"y":6.6}
]
},
"layer": [
  {
    "data": {"name": "meas"},
    "mark": {"type": "line", "color": "#1f77b4", "strokeWidth": 2.2, "clip": true},
    "encoding": {
      "x": {"field": "x", "type": "quantitative", "scale": {"domain": [-375, 7925], "nice": false, "zero": false},
            "axis": {"title": "Amostra", "values": [0,1000,2000,3000,4000,5000,6000,7000], "format": "d", "labelPadding": 5, "titlePadding": 7, "titleX": 432}},
      "y": {"field": "y", "type": "quantitative", "scale": {"domain": [0, 15.48], "nice": false, "zero": false},
            "axis": {"title": "Temperatura [°C]", "values": [0,2,4,6,8,10,12,14], "labelPadding": 3, "titlePadding": 4}}
    }
  },
  {
    "data": {"name": "pred"},
    "mark": {"type": "line", "color": "#ff7f0e", "strokeWidth": 1.8, "strokeDash": [1.8, 2.7], "clip": true},
    "encoding": {
      "x": {"field": "x", "type": "quantitative"},
      "y": {"field": "y", "type": "quantitative"}
    }
  }
]
}
